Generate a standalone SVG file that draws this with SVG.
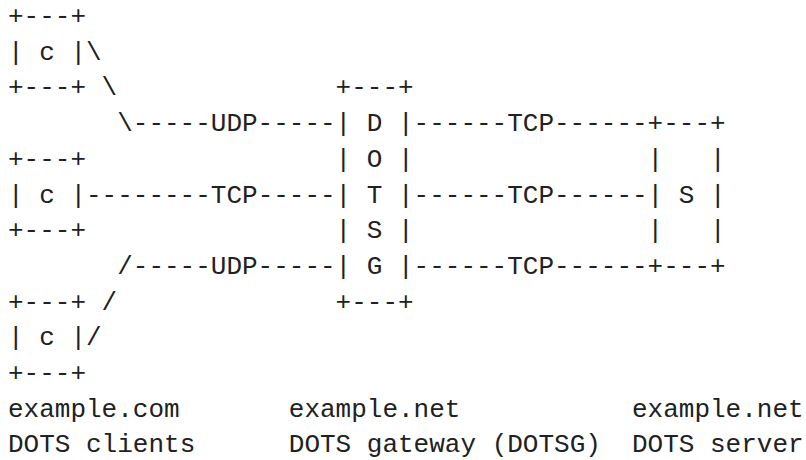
<svg xmlns="http://www.w3.org/2000/svg" width="806" height="460" viewBox="0 0 806 460" xml:space="preserve">
<style>
text { font-family: "Liberation Mono", "DejaVu Sans Mono", monospace; font-size: 26px; fill: #212121; white-space: pre; }
</style>
<rect x="0" y="0" width="806" height="460" fill="#ffffff"/>
<g id="client1">
<text x="8" y="24">+---+</text>
<text x="8" y="59.7">| c |</text>
<text x="8" y="95.4">+---+</text>
</g>
<g id="client2">
<text x="8" y="166.8">+---+</text>
<text x="8" y="202.5">| c |</text>
<text x="8" y="238.2">+---+</text>
</g>
<g id="client3">
<text x="8" y="309.6">+---+</text>
<text x="8" y="345.3">| c |</text>
<text x="8" y="381">+---+</text>
</g>
<g id="gateway">
<text x="335.6" y="95.4">+---+</text>
<text x="335.6" y="131.1">| D |</text>
<text x="335.6" y="166.8">| O |</text>
<text x="335.6" y="202.5">| T |</text>
<text x="335.6" y="238.2">| S |</text>
<text x="335.6" y="273.9">| G |</text>
<text x="335.6" y="309.6">+---+</text>
</g>
<g id="server">
<text x="647.6" y="131.1">+---+</text>
<text x="647.6" y="166.8">|   |</text>
<text x="647.6" y="202.5">| S |</text>
<text x="647.6" y="238.2">|   |</text>
<text x="647.6" y="273.9">+---+</text>
</g>
<g id="connectors">
<text x="86" y="59.7">\</text>
<text x="101.6" y="95.4">\</text>
<text x="117.2" y="131.1">\-----UDP-----</text>
<text x="86" y="202.5">--------TCP-----</text>
<text x="117.2" y="273.9">/-----UDP-----</text>
<text x="101.6" y="309.6">/</text>
<text x="86" y="345.3">/</text>
<text x="413.6" y="131.1">------TCP------</text>
<text x="413.6" y="202.5">------TCP------</text>
<text x="413.6" y="273.9">------TCP------</text>
</g>
<g id="labels">
<text x="8" y="416.7">example.com</text>
<text x="288.8" y="416.7">example.net</text>
<text x="632" y="416.7">example.net</text>
<text x="8" y="452.4">DOTS clients</text>
<text x="288.8" y="452.4">DOTS gateway (DOTSG)</text>
<text x="632" y="452.4">DOTS server</text>
</g>
</svg>
